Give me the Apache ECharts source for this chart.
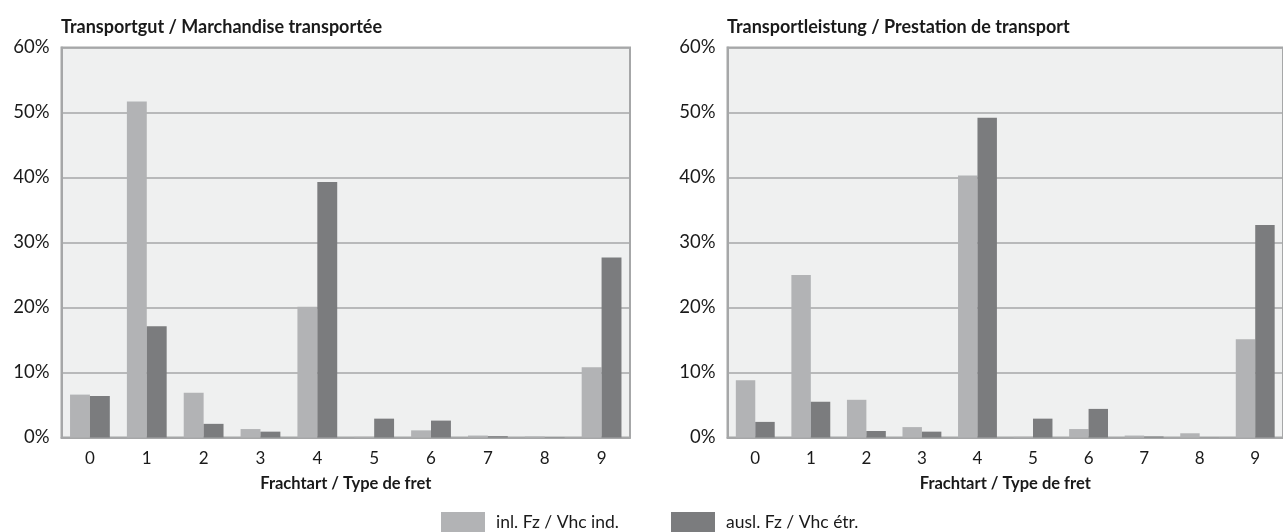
<!DOCTYPE html>
<html>
<head>
<meta charset="utf-8">
<script src="https://cdn.jsdelivr.net/npm/echarts@6/dist/echarts.min.js"></script>
<style>
html,body{margin:0;padding:0;background:#fff;}
#c{width:1283px;height:532px;}
</style>
</head>
<body>
<div id="c"></div>
<script>
const categories = ['0','1','2','3','4','5','6','7','8','9'];
const seriesNames = ['inl. Fz / Vhc ind.', 'ausl. Fz / Vhc étr.'];
const titles = ['Transportgut / Marchandise transportée', 'Transportleistung / Prestation de transport'];
const xAxisName = 'Frachtart / Type de fret';
// Left chart: Transportgut
const gutInl  = [6.6, 51.7, 6.9, 1.3, 20.1, 0.1, 1.1, 0.3, 0.15, 10.8];
const gutAusl = [6.4, 17.1, 2.1, 0.9, 39.3, 2.9, 2.6, 0.2, 0.05, 27.7];
// Right chart: Transportleistung
const leiInl  = [8.8, 25.0, 5.8, 1.6, 40.3, 0.1, 1.3, 0.3, 0.65, 15.1];
const leiAusl = [2.4, 5.5, 1.0, 0.9, 49.2, 2.9, 4.4, 0.15, 0.02, 32.7];

const FONT = 'Lato';
const LIGHT = '#b2b3b5';
const DARK = '#7b7c7e';
const GRIDC = '#a6a7a8';

function xAxis(i){
  return {
    type:'category', gridIndex:i, data:categories,
    axisTick:{show:false},
    axisLine:{show:true, lineStyle:{color:GRIDC, width:2}},
    axisLabel:{color:'#1a1a1a', fontFamily:FONT, fontSize:17, margin:13},
    name:xAxisName, nameLocation:'middle', nameGap:38,
    nameTextStyle:{color:'#1a1a1a', fontFamily:FONT, fontSize:16.5, fontWeight:'bold'}
  };
}
function yAxis(i){
  return {
    type:'value', gridIndex:i, min:0, max:60, interval:10,
    axisLine:{show:true, lineStyle:{color:GRIDC, width:2}},
    axisTick:{show:false},
    splitLine:{show:true, lineStyle:{color:GRIDC, width:1.5}},
    axisLabel:{color:'#1a1a1a', fontFamily:FONT, fontSize:18.5, margin:12, formatter:'{value}%'}
  };
}
function bar(name, data, i, color){
  return {
    type:'bar', name:name, data:data, xAxisIndex:i, yAxisIndex:i,
    barGap:'0%', barCategoryGap:'30%',
    itemStyle:{color:color}, animation:false
  };
}
function legend(name, left){
  return {
    data:[name], left:left, top:512, padding:0, itemWidth:44, itemHeight:20,
    icon:'rect', selectedMode:false,
    textStyle:{fontFamily:FONT, fontSize:17.5, color:'#1a1a1a', padding:[0,0,0,6]}
  };
}

const chart = echarts.init(document.getElementById('c'), null, {renderer:'canvas'});
chart.setOption({
  animation:false,
  backgroundColor:'#ffffff',
  title:[
    {text:titles[0], left:61, top:18, padding:[0,0,0,0], textStyle:{fontFamily:FONT, fontSize:18, fontWeight:'bold', color:'#1a1a1a'}},
    {text:titles[1], left:727, top:18, padding:[0,0,0,0], textStyle:{fontFamily:FONT, fontSize:18, fontWeight:'bold', color:'#1a1a1a'}}
  ],
  legend:[legend(seriesNames[0], 441), legend(seriesNames[1], 671)],
  grid:[
    {left:61.5, top:47.5, width:568.5, height:390, show:true, backgroundColor:'#eff0f0', borderColor:GRIDC, borderWidth:2},
    {left:727.5, top:47.5, width:569, height:390, show:true, backgroundColor:'#eff0f0', borderColor:GRIDC, borderWidth:2}
  ],
  xAxis:[xAxis(0), xAxis(1)],
  yAxis:[yAxis(0), yAxis(1)],
  series:[
    bar(seriesNames[0], gutInl, 0, LIGHT),
    bar(seriesNames[1], gutAusl, 0, DARK),
    bar(seriesNames[0], leiInl, 1, LIGHT),
    bar(seriesNames[1], leiAusl, 1, DARK)
  ]
});
</script>
</body>
</html>
